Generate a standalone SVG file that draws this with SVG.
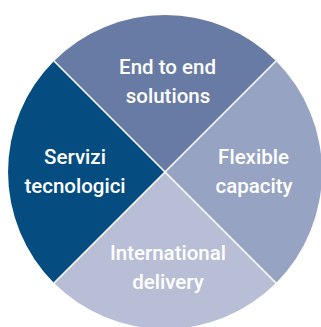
<svg xmlns="http://www.w3.org/2000/svg" width="321" height="327" viewBox="0 0 321 327">
<style>
.lbl{font-family:Roboto,"Liberation Sans",Arial,sans-serif;font-weight:500;font-size:20.5px;fill:#ffffff;text-anchor:middle}
.sep{stroke:#ffffff;stroke-width:1.6;fill:none}
</style>
<rect width="321" height="327" fill="#ffffff"/>
<g id="end-to-end">
<path d="M165,172 L54,61 A157,157 0 0 1 276,61 Z" fill="#687BA4"/>
<text class="lbl" x="167.5" y="74">End to end</text>
<text class="lbl" x="168" y="103">solutions</text>
</g>
<g id="flexible-capacity">
<path d="M165,172 L276,61 A157,157 0 0 1 276,283 Z" fill="#97A3C2"/>
<text class="lbl" x="253.5" y="164">Flexible</text>
<text class="lbl" x="254" y="193">capacity</text>
</g>
<g id="international-delivery">
<path d="M165,172 L276,283 A157,157 0 0 1 54,283 Z" fill="#B7BED5"/>
<text class="lbl" x="168" y="260">International</text>
<text class="lbl" x="168" y="289">delivery</text>
</g>
<g id="servizi-tecnologici">
<path d="M165,172 L54,283 A157,157 0 0 1 54,61 Z" fill="#054D80"/>
<text class="lbl" x="75" y="164">Servizi</text>
<text class="lbl" x="75" y="193">tecnologici</text>
</g>
<g id="separators">
<line class="sep" x1="50" y1="57" x2="280" y2="287"/>
<line class="sep" x1="280" y1="57" x2="50" y2="287"/>
</g>
</svg>
